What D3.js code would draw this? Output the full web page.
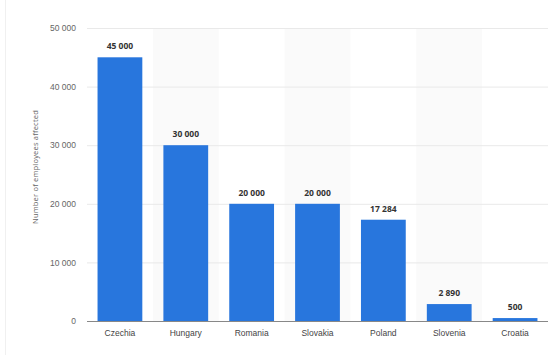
<!DOCTYPE html>
<html>
<head>
<meta charset="utf-8">
<script src="https://cdn.jsdelivr.net/npm/d3@7"></script>
<style>
  body { margin: 0; background: #fff; }
  svg { font-family: "Open Sans", "DejaVu Sans", sans-serif; }
</style>
</head>
<body>
<div id="chart"></div>
<script>
var countries = ["Czechia", "Hungary", "Romania", "Slovakia", "Poland", "Slovenia", "Croatia"];
var employees = [45000, 30000, 20000, 20000, 17284, 2890, 500];
var yTicks = [0, 10000, 20000, 30000, 40000, 50000];

var W = 554, H = 355;
var margin = {top: 28, right: 6, bottom: 34, left: 87};
var width = W - margin.left - margin.right;
var height = H - margin.top - margin.bottom;

var svg = d3.select("#chart").append("svg")
    .attr("width", W)
    .attr("height", H);

// faint frame of the container
svg.append("line").attr("x1", 5.5).attr("x2", 5.5).attr("y1", 0).attr("y2", H)
    .style("stroke", "#f0f0f0");

var g = svg.append("g")
    .attr("transform", "translate(" + margin.left + "," + margin.top + ")");

var x = d3.scaleBand().domain(countries).range([0, width]).paddingInner(0.32).paddingOuter(0.16);
var y = d3.scaleLinear().domain([0, 50000]).range([height, 0]);

var fmt = function(v) { return d3.format(",")(v).replace(/,/g, " "); };

// alternating band backgrounds
var step = x.step();
g.selectAll(".band")
    .data(countries.filter(function(d, i) { return i % 2 == 1; }))
    .enter().append("rect")
    .attr("x", function(d) { return x(d) - x.paddingInner() * step / 2; })
    .attr("y", 0)
    .attr("width", step)
    .attr("height", height)
    .style("fill", "#fafafa");

// gridlines
g.selectAll(".grid")
    .data(yTicks.slice(1))
    .enter().append("line")
    .attr("x1", 0).attr("x2", width)
    .attr("y1", function(d) { return y(d) + 0.5; })
    .attr("y2", function(d) { return y(d) + 0.5; })
    .style("stroke", "#e9e9e9");

// y axis labels
var axisLeft = d3.axisLeft(y).tickValues(yTicks).tickSize(0).tickPadding(11).tickFormat(fmt);
g.append("g")
    .attr("class", "axis axis--y")
    .call(axisLeft)
    .call(function(s) { s.select(".domain").remove(); })
    .selectAll("text")
    .style("font-size", "8.5px")
    .style("fill", "#666");

// bars
g.selectAll(".bar")
    .data(countries)
    .enter().append("rect")
    .attr("x", function(d) { return x(d); })
    .attr("y", function(d, i) { return y(employees[i]); })
    .attr("width", x.bandwidth())
    .attr("height", function(d, i) { return height - y(employees[i]); })
    .style("fill", "#2876dd");

// value labels
g.selectAll(".val")
    .data(countries)
    .enter().append("text")
    .attr("x", function(d) { return x(d) + x.bandwidth() / 2; })
    .attr("y", function(d, i) { return y(employees[i]) - 8; })
    .style("text-anchor", "middle")
    .style("font-size", "8.5px")
    .style("font-weight", "bold")
    .style("fill", "#333")
    .text(function(d, i) { return fmt(employees[i]); });

// baseline
g.append("line")
    .attr("x1", 0).attr("x2", width)
    .attr("y1", height + 0.5).attr("y2", height + 0.5)
    .style("stroke", "#888");

// x axis labels
var axisBottom = d3.axisBottom(x).tickSize(0).tickPadding(9);
g.append("g")
    .attr("class", "axis axis--x")
    .attr("transform", "translate(0," + height + ")")
    .call(axisBottom)
    .call(function(s) { s.select(".domain").remove(); })
    .selectAll("text")
    .style("font-size", "8.5px")
    .style("fill", "#444");

// y axis title
svg.append("text")
    .attr("transform", "translate(38,167) rotate(-90)")
    .style("text-anchor", "middle")
    .style("font-size", "7.5px")
    .style("letter-spacing", "0.2px")
    .style("fill", "#666")
    .text("Number of employees affected");
</script>
</body>
</html>
